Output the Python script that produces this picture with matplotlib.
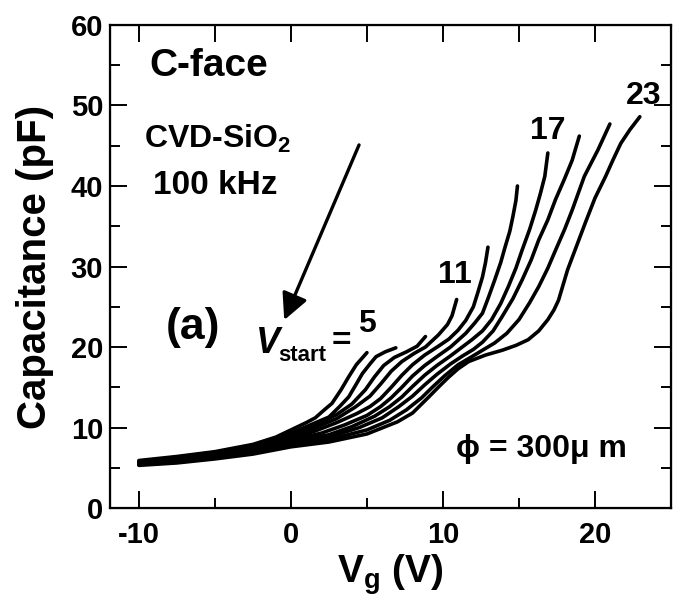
import matplotlib.pyplot as plt
import numpy as np

plt.rcParams['font.family'] = ['Liberation Sans', 'DejaVu Sans']
plt.rcParams['font.weight'] = 'bold'
plt.rcParams['axes.unicode_minus'] = False
plt.rcParams['mathtext.fontset'] = 'custom'
plt.rcParams['mathtext.rm'] = 'Liberation Sans:bold'
plt.rcParams['mathtext.bf'] = 'Liberation Sans:bold'
plt.rcParams['mathtext.it'] = 'Liberation Sans:italic:bold'
plt.rcParams['mathtext.default'] = 'bf'

# C-V curves for Vstart = 5 ... 23 V
vstart = [5, 7, 9, 11, 13, 15, 17, 19, 21, 23]

v5 = [-10, -7.5, -5, -2.5, -1, 0, 1, 1.6, 2.2, 2.7, 3.3, 3.8, 4.3, 5.0]
c5 = [5.9, 6.4, 7.0, 7.9, 8.8, 9.7, 10.6, 11.2, 12.2, 13.0, 14.7, 16.3, 17.8, 19.3]

v7 = [-10, -7.5, -5, -2.5, 0, 1.0, 2.5, 3.2, 3.8, 4.3, 4.7, 5.2, 5.6, 6.2, 6.9]
c7 = [5.8, 6.3, 6.9, 7.8, 9.3, 10.1, 11.3, 12.6, 13.8, 15.4, 16.7, 17.9, 18.8, 19.4, 19.9]

v9 = [-10, -7.5, -5, -2.5, 0, 1.5, 3, 4, 4.9, 5.5, 6.1, 6.8, 7.6, 8.3, 8.85]
c9 = [5.8, 6.2, 6.8, 7.6, 9.0, 10.2, 11.6, 12.9, 14.7, 16.3, 17.7, 18.7, 19.4, 20.1, 21.3]

v11 = [-10, -7.5, -5, -2.5, 0, 1.5, 3, 4.2, 5.2, 5.9, 6.6, 7.3, 8.1, 8.85, 9.7,
       10.3, 10.6, 10.9]
c11 = [5.7, 6.1, 6.7, 7.5, 8.8, 9.9, 11.1, 12.5, 13.9, 15.4, 17.0, 18.2, 19.2, 20.0, 21.5,
       22.8, 23.9, 25.9]

v13 = [-10, -7.5, -5, -2.5, 0, 1.5, 3, 4.3, 5.2, 5.9, 6.6, 7.3, 8.0, 8.8, 9.7, 10.4,
       11.0, 11.5, 12.0, 12.3, 12.6, 12.8, 12.96]
c13 = [5.6, 6.0, 6.6, 7.4, 8.6, 9.5, 10.6, 11.7, 12.6, 13.6, 15.0, 16.5, 17.8, 19.0, 20.1, 21.0,
       22.1, 23.3, 25.0, 26.8, 28.7, 30.5, 32.4]

v15 = [-10, -7.5, -5, -2.5, 0, 2, 3.5, 5, 5.9, 6.6, 7.3, 8.0, 8.8, 9.6, 10.5, 11.5, 12.1,
       12.6, 13.0, 13.4, 13.8, 14.1, 14.4, 14.6, 14.8, 14.9]
c15 = [5.6, 6.0, 6.5, 7.3, 8.4, 9.3, 10.3, 11.5, 12.6, 13.7, 15.0, 16.4, 17.7, 18.8, 20.0, 21.7, 23.0,
       24.2, 26.2, 28.3, 30.5, 32.5, 34.4, 36.2, 38.2, 40.0]

v17 = [-10, -7.5, -5, -2.5, 0, 2.5, 4, 5.5, 6.5, 7.3, 8.0, 8.8, 9.6, 10.5, 11.2, 11.9, 12.6,
       13.2, 13.8, 14.3, 14.8, 15.2, 15.7, 16.1, 16.4, 16.7, 16.9]
c17 = [5.5, 5.9, 6.4, 7.1, 8.2, 9.1, 10.1, 11.4, 12.6, 13.8, 15.1, 16.5, 17.7, 18.9, 19.9, 20.9, 22.0,
       23.4, 25.4, 27.5, 29.8, 32.0, 34.6, 37.0, 39.0, 41.2, 44.1]

v19 = [-10, -7.5, -5, -2.5, 0, 2.5, 4.5, 6, 7.1, 8.0, 8.8, 9.6, 10.5, 11.3, 12.0, 12.6, 13.3,
       13.9, 14.6, 15.2, 15.8, 16.3, 16.9, 17.4, 18.0, 18.5, 18.97]
c19 = [5.4, 5.8, 6.3, 7.0, 8.0, 8.8, 10.0, 11.2, 12.6, 13.9, 15.3, 16.6, 17.9, 18.9, 19.7, 20.6, 22.0,
       23.8, 26.0, 28.3, 30.8, 33.3, 35.8, 38.3, 40.9, 43.2, 46.2]

v21 = [-10, -7.5, -5, -2.5, 0, 2.5, 5, 6.5, 7.6, 8.6, 9.3, 10.1, 11.0, 11.9, 12.6, 13.4, 14.2,
       15.0, 15.7, 16.3, 16.9, 17.4, 18.0, 18.5, 19.3, 20.2, 20.98]
c21 = [5.4, 5.7, 6.2, 6.9, 7.8, 8.5, 9.7, 10.9, 12.2, 13.7, 15.0, 16.4, 17.8, 18.8, 19.6, 20.5, 21.7,
       23.4, 25.5, 27.5, 29.8, 32.0, 34.6, 37.0, 41.2, 44.5, 47.7]

v23 = [-10, -7.5, -5, -2.5, 0, 2.5, 5, 7, 8, 9.07, 9.8, 10.4, 11.0, 11.7, 12.8, 13.9, 14.8,
       15.6, 16.3, 16.9, 17.3, 17.6, 18.2, 18.8, 19.4, 20.0, 20.7, 21.2, 21.7, 22.3, 22.95]
c23 = [5.3, 5.6, 6.1, 6.7, 7.6, 8.2, 9.2, 10.7, 11.8, 13.8, 15.2, 16.3, 17.3, 18.2, 19.0, 19.6, 20.2,
       20.9, 22.0, 23.4, 24.6, 25.8, 29.6, 32.6, 35.6, 38.5, 41.2, 43.3, 45.3, 47.0, 48.6]

curves_v = [v5, v7, v9, v11, v13, v15, v17, v19, v21, v23]
curves_c = [c5, c7, c9, c11, c13, c15, c17, c19, c21, c23]

fig = plt.figure(figsize=(6.73, 6.05), dpi=100)
ax = fig.add_axes([0.1635, 0.1603, 0.8335, 0.7984])

for v, c in zip(curves_v, curves_c):
    ax.plot(v, c, color='black', lw=2.6, solid_capstyle='round',
            solid_joinstyle='round')

ax.set_xlim(-11.9, 25)
ax.set_ylim(0, 60)
ax.set_xticks([-10, 0, 10, 20])
ax.set_xticks([-5, 5, 15], minor=True)
ax.set_yticks(np.arange(0, 61, 10))
ax.set_yticks(np.arange(5, 60, 10), minor=True)
ax.tick_params(which='major', direction='in', length=12, width=1.4,
               labelsize=21, right=True, pad=9)
ax.tick_params(which='minor', direction='in', length=7.5, width=1.4, right=True)
ax.tick_params(axis='y', which='major', pad=5)
for s in ax.spines.values():
    s.set_linewidth(1.6)

# top ticks are all the same length in the original
ax2 = ax.twiny()
ax2.set_xlim(ax.get_xlim())
ax2.set_xticks(np.arange(-10, 25, 5))
ax2.tick_params(direction='in', length=12, width=1.4, labeltop=False)

ax.set_xlabel(r'V$_{\mathbf{g}}$ (V)', fontsize=28, fontweight='bold', labelpad=3)
ax.set_ylabel('Capacitance (pF)', fontsize=29, fontweight='bold', labelpad=12)

ax.text(-5.4, 54.9, 'C-face', fontsize=28, ha='center', va='center')
ax.text(-4.8, 45.8, r'CVD-SiO$_2$', fontsize=23, ha='center', va='center')
ax.text(-4.96, 40.0, '100 kHz', fontsize=24, ha='center', va='center')
ax.text(-6.46, 22.4, '(a)', fontsize=32, ha='center', va='center')
ax.text(-2.3, 20.4, 'V', fontsize=26, style='italic', ha='left', va='center')
ax.text(-0.85, 18.3, 'start', fontsize=16, ha='left', va='baseline')
ax.text(3.3, 20.7, '=', fontsize=24, ha='center', va='center')
ax.text(5.0, 22.9, '5', fontsize=23, ha='center', va='center')
ax.text(10.8, 29.0, '11', fontsize=23, ha='center', va='center')
ax.text(16.9, 46.8, '17', fontsize=23, ha='center', va='center')
ax.text(23.2, 51.2, '23', fontsize=23, ha='center', va='center')
ax.text(16.5, 7.3, '\u03d5 = 300\u03bc m', fontsize=23, ha='center', va='center')

ax.annotate('', xy=(-0.44, 23.35), xytext=(4.48, 45.1),
            arrowprops=dict(arrowstyle='-|>', lw=2.4, color='black',
                            mutation_scale=40, shrinkA=0, shrinkB=0))

fig.savefig('out.png', dpi=100)
